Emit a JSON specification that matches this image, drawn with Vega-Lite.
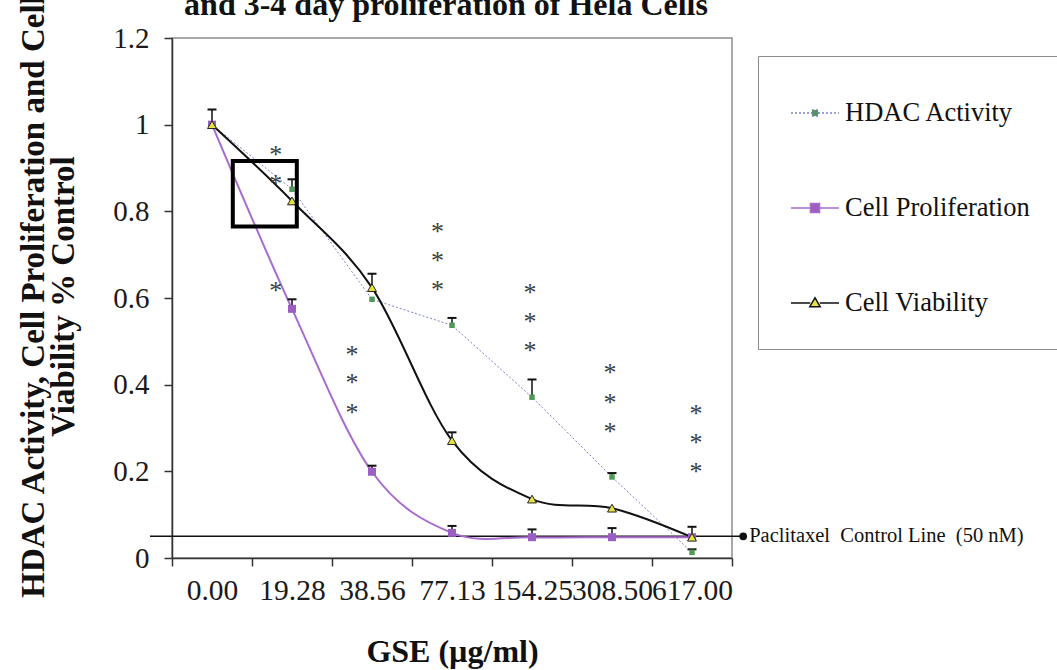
{
  "$schema": "https://vega.github.io/schema/vega-lite/v6.json",
  "width": 560,
  "height": 520,
  "autosize": {"type": "none"},
  "padding": {"left": 172, "top": 38, "right": 325, "bottom": 112},
  "background": "white",
  "title": {
    "text": "and 3-4 day proliferation of Hela Cells",
    "font": "Liberation Serif",
    "fontSize": 32,
    "fontWeight": "bold",
    "color": "#111",
    "anchor": "middle",
    "frame": "group",
    "offset": 0,
    "dy": 28,
    "dx": -6
  },
  "config": {
    "view": {"stroke": "#8c8c8c", "strokeWidth": 1.5},
    "font": "Liberation Serif"
  },
  "datasets": {
    "pts": [
      {"i": 0.5, "dose": "0.00", "series": "HDAC Activity", "v": 1.0, "hi": 1.035},
      {"i": 1.5, "dose": "19.28", "series": "HDAC Activity", "v": 0.851, "hi": 0.874},
      {"i": 2.5, "dose": "38.56", "series": "HDAC Activity", "v": 0.597, "hi": null},
      {"i": 3.5, "dose": "77.13", "series": "HDAC Activity", "v": 0.537, "hi": 0.554},
      {"i": 4.5, "dose": "154.25", "series": "HDAC Activity", "v": 0.371, "hi": 0.412},
      {"i": 5.5, "dose": "308.50", "series": "HDAC Activity", "v": 0.187, "hi": 0.196},
      {"i": 6.5, "dose": "617.00", "series": "HDAC Activity", "v": 0.013, "hi": 0.02},
      {"i": 0.5, "dose": "0.00", "series": "Cell Proliferation", "v": 1.0, "hi": null},
      {"i": 1.5, "dose": "19.28", "series": "Cell Proliferation", "v": 0.575, "hi": 0.597},
      {"i": 2.5, "dose": "38.56", "series": "Cell Proliferation", "v": 0.199, "hi": 0.213},
      {"i": 3.5, "dose": "77.13", "series": "Cell Proliferation", "v": 0.058, "hi": 0.074},
      {"i": 4.5, "dose": "154.25", "series": "Cell Proliferation", "v": 0.048, "hi": 0.066},
      {"i": 5.5, "dose": "308.50", "series": "Cell Proliferation", "v": 0.048, "hi": 0.069},
      {"i": 6.5, "dose": "617.00", "series": "Cell Proliferation", "v": 0.048, "hi": null},
      {"i": 0.5, "dose": "0.00", "series": "Cell Viability", "v": 1.0, "hi": null},
      {"i": 1.5, "dose": "19.28", "series": "Cell Viability", "v": 0.824, "hi": null},
      {"i": 2.5, "dose": "38.56", "series": "Cell Viability", "v": 0.624, "hi": 0.656},
      {"i": 3.5, "dose": "77.13", "series": "Cell Viability", "v": 0.271, "hi": 0.29},
      {"i": 4.5, "dose": "154.25", "series": "Cell Viability", "v": 0.136, "hi": null},
      {"i": 5.5, "dose": "308.50", "series": "Cell Viability", "v": 0.115, "hi": null},
      {"i": 6.5, "dose": "617.00", "series": "Cell Viability", "v": 0.048, "hi": 0.072}
    ],
    "stars": [
      {"x": 1.296, "y": 0.941}, {"x": 1.296, "y": 0.874}, {"x": 1.296, "y": 0.627},
      {"x": 2.25, "y": 0.481}, {"x": 2.25, "y": 0.416}, {"x": 2.25, "y": 0.347},
      {"x": 3.32, "y": 0.765}, {"x": 3.32, "y": 0.698}, {"x": 3.32, "y": 0.631},
      {"x": 4.475, "y": 0.624}, {"x": 4.475, "y": 0.557}, {"x": 4.475, "y": 0.49},
      {"x": 5.475, "y": 0.439}, {"x": 5.475, "y": 0.37}, {"x": 5.475, "y": 0.303},
      {"x": 6.55, "y": 0.345}, {"x": 6.55, "y": 0.277}, {"x": 6.55, "y": 0.21}
    ],
    "box": [{"x1": 0.76, "x2": 1.56, "y1": 0.765, "y2": 0.916}],
    "ctrl": [{"x1": -0.275, "x2": 7.14, "y": 0.05, "label": "Paclitaxel\u00a0 Control Line\u00a0 (50 nM)"}]
  },
  "layer": [
    {
      "data": {"name": "ctrl"},
      "mark": {"type": "rule", "color": "#111", "strokeWidth": 1.5},
      "encoding": {
        "x": {
          "field": "x1", "type": "quantitative",
          "scale": {"domain": [0, 7], "nice": false, "zero": false},
          "axis": {
            "values": [0, 1, 2, 3, 4, 5, 6, 7],
            "labelExpr": "['0.00','19.28','38.56','77.13','154.25','308.50','617.00',''][datum.value]",
            "labelOffset": 40,
            "labelFlush": false,
            "labelOverlap": false,
            "labelBound": false,
            "labelAlign": "center",
            "labelFont": "Liberation Serif",
            "labelFontSize": 29.5,
            "labelColor": "#1a1a1a",
            "labelPadding": 10,
            "tickSize": 8,
            "tickColor": "#333",
            "tickWidth": 1.5,
            "domainColor": "#333",
            "domainWidth": 1.5,
            "grid": false,
            "title": "GSE (µg/ml)",
            "titleFont": "Liberation Serif",
            "titleFontSize": 32,
            "titleFontWeight": "bold",
            "titleColor": "#111",
            "titleX": 280,
            "titleY": 103,
            "titleBaseline": "alphabetic",
            "titleAlign": "center"
          }
        },
        "x2": {"field": "x2"},
        "y": {
          "field": "y", "type": "quantitative",
          "scale": {"domain": [0, 1.2], "nice": false, "zero": false},
          "axis": {
            "values": [0, 0.2, 0.4, 0.6, 0.8, 1, 1.2],
            "format": "~g",
            "labelFont": "Liberation Serif",
            "labelFontSize": 29,
            "labelColor": "#1a1a1a",
            "labelPadding": 15,
            "tickSize": 8,
            "tickColor": "#333",
            "tickWidth": 1.5,
            "domainColor": "#333",
            "domainWidth": 1.5,
            "grid": false,
            "title": ["HDAC Activity, Cell Proliferation and Cell", "Viability % Control"],
            "titleFont": "Liberation Serif",
            "titleFontSize": 33,
            "titleFontWeight": "bold",
            "titleColor": "#111",
            "titleLineHeight": 30,
            "titleX": -139,
            "titleY": 258,
            "titleAngle": -90,
            "titleAlign": "center",
            "titleBaseline": "middle"
          }
        }
      }
    },
    {
      "data": {"name": "ctrl"},
      "mark": {"type": "point", "filled": true, "color": "#111", "opacity": 1, "size": 60},
      "encoding": {
        "x": {"field": "x2", "type": "quantitative"},
        "y": {"field": "y", "type": "quantitative"}
      }
    },
    {
      "data": {"name": "ctrl"},
      "mark": {"type": "text", "align": "left", "baseline": "middle", "dx": 6, "font": "Liberation Serif", "fontSize": 20.5, "color": "#111"},
      "encoding": {
        "x": {"field": "x2", "type": "quantitative"},
        "y": {"field": "y", "type": "quantitative"},
        "text": {"field": "label"}
      }
    },
    {
      "data": {"name": "pts"},
      "transform": [{"filter": "datum.series === 'HDAC Activity'"}],
      "mark": {"type": "line", "color": "#7b83c4", "strokeWidth": 1, "strokeDash": [2, 2], "interpolate": "linear"},
      "encoding": {
        "x": {"field": "i", "type": "quantitative"},
        "y": {"field": "v", "type": "quantitative"}
      }
    },
    {
      "data": {"name": "pts"},
      "transform": [{"filter": "datum.series === 'Cell Proliferation'"}],
      "mark": {"type": "line", "color": "#a86ccc", "strokeWidth": 2, "interpolate": "cardinal"},
      "encoding": {
        "x": {"field": "i", "type": "quantitative"},
        "y": {"field": "v", "type": "quantitative"}
      }
    },
    {
      "data": {"name": "pts"},
      "transform": [{"filter": "datum.series === 'Cell Viability'"}],
      "mark": {"type": "line", "color": "#111", "strokeWidth": 2, "interpolate": "cardinal"},
      "encoding": {
        "x": {"field": "i", "type": "quantitative"},
        "y": {"field": "v", "type": "quantitative"}
      }
    },
    {
      "data": {"name": "pts"},
      "transform": [{"filter": "isValid(datum.hi)"}],
      "mark": {"type": "rule", "color": "#111", "strokeWidth": 1.5},
      "encoding": {
        "x": {"field": "i", "type": "quantitative"},
        "y": {"field": "v", "type": "quantitative"},
        "y2": {"field": "hi"}
      }
    },
    {
      "data": {"name": "pts"},
      "transform": [{"filter": "isValid(datum.hi)"}],
      "mark": {"type": "tick", "orient": "horizontal", "color": "#111", "size": 9, "thickness": 2, "opacity": 1},
      "encoding": {
        "x": {"field": "i", "type": "quantitative"},
        "y": {"field": "hi", "type": "quantitative"}
      }
    },
    {
      "data": {"name": "pts"},
      "transform": [{"filter": "datum.series === 'HDAC Activity'"}],
      "mark": {"type": "point", "shape": "square", "filled": true, "color": "#4f9a55", "opacity": 1, "size": 30},
      "encoding": {
        "x": {"field": "i", "type": "quantitative"},
        "y": {"field": "v", "type": "quantitative"}
      }
    },
    {
      "data": {"name": "pts"},
      "transform": [{"filter": "datum.series === 'Cell Proliferation'"}],
      "mark": {"type": "point", "shape": "square", "filled": true, "color": "#9b5fc4", "opacity": 1, "size": 64},
      "encoding": {
        "x": {"field": "i", "type": "quantitative"},
        "y": {"field": "v", "type": "quantitative"}
      }
    },
    {
      "data": {"name": "pts"},
      "transform": [{"filter": "datum.series === 'Cell Viability'"}],
      "mark": {"type": "point", "shape": "triangle-up", "filled": true, "fill": "#e8e43a", "stroke": "#222", "strokeWidth": 1, "opacity": 1, "size": 80},
      "encoding": {
        "x": {"field": "i", "type": "quantitative"},
        "y": {"field": "v", "type": "quantitative"}
      }
    },
    {
      "data": {"name": "stars"},
      "mark": {"type": "text", "text": "*", "font": "Liberation Serif", "fontSize": 26, "color": "#3c3c3c", "align": "center", "baseline": "middle", "dy": 5},
      "encoding": {
        "x": {"field": "x", "type": "quantitative"},
        "y": {"field": "y", "type": "quantitative"}
      }
    },
    {
      "data": {"name": "box"},
      "mark": {"type": "rect", "filled": false, "stroke": "#000", "strokeWidth": 4},
      "encoding": {
        "x": {"field": "x1", "type": "quantitative"},
        "x2": {"field": "x2"},
        "y": {"field": "y1", "type": "quantitative"},
        "y2": {"field": "y2"}
      }
    },
    {
      "data": {"name": "pts"},
      "transform": [{"filter": "false"}],
      "mark": {"type": "point", "filled": true, "opacity": 1},
      "encoding": {
        "shape": {
          "field": "series", "type": "nominal",
          "scale": {
            "domain": ["HDAC Activity", "Cell Proliferation", "Cell Viability"],
            "range": [
              "M-1,0H-0.125M0.125,0H1M-0.125,-0.125H0.125V0.125H-0.125Z",
              "M-1,0H-0.19M0.19,0H1M-0.19,-0.19H0.19V0.19H-0.19Z",
              "M-1,0H-0.2M0.2,0H1M0,-0.22L0.22,0.16H-0.22Z"
            ]
          },
          "legend": {
            "orient": "none",
            "legendX": 586,
            "legendY": 18,
            "title": null,
            "strokeColor": "#8c8c8c",
            "fillColor": "white",
            "padding": 32,
            "rowPadding": 56,
            "labelFont": "Liberation Serif",
            "labelFontSize": 26.5,
            "labelColor": "#111",
            "labelLimit": 400,
            "labelOffset": 5,
            "symbolSize": 2304,
            "symbolStrokeWidth": 1.5
          }
        },
        "fill": {
          "field": "series", "type": "nominal",
          "scale": {
            "domain": ["HDAC Activity", "Cell Proliferation", "Cell Viability"],
            "range": ["#4f9a55", "#9b5fc4", "#e8e43a"]
          }
        },
        "stroke": {
          "field": "series", "type": "nominal",
          "scale": {
            "domain": ["HDAC Activity", "Cell Proliferation", "Cell Viability"],
            "range": ["#7b83c4", "#a86ccc", "#111111"]
          }
        },
        "strokeDash": {
          "field": "series", "type": "nominal",
          "scale": {
            "domain": ["HDAC Activity", "Cell Proliferation", "Cell Viability"],
            "range": [[2, 2], [1, 0], [1, 0]]
          }
        }
      }
    }
  ]
}
